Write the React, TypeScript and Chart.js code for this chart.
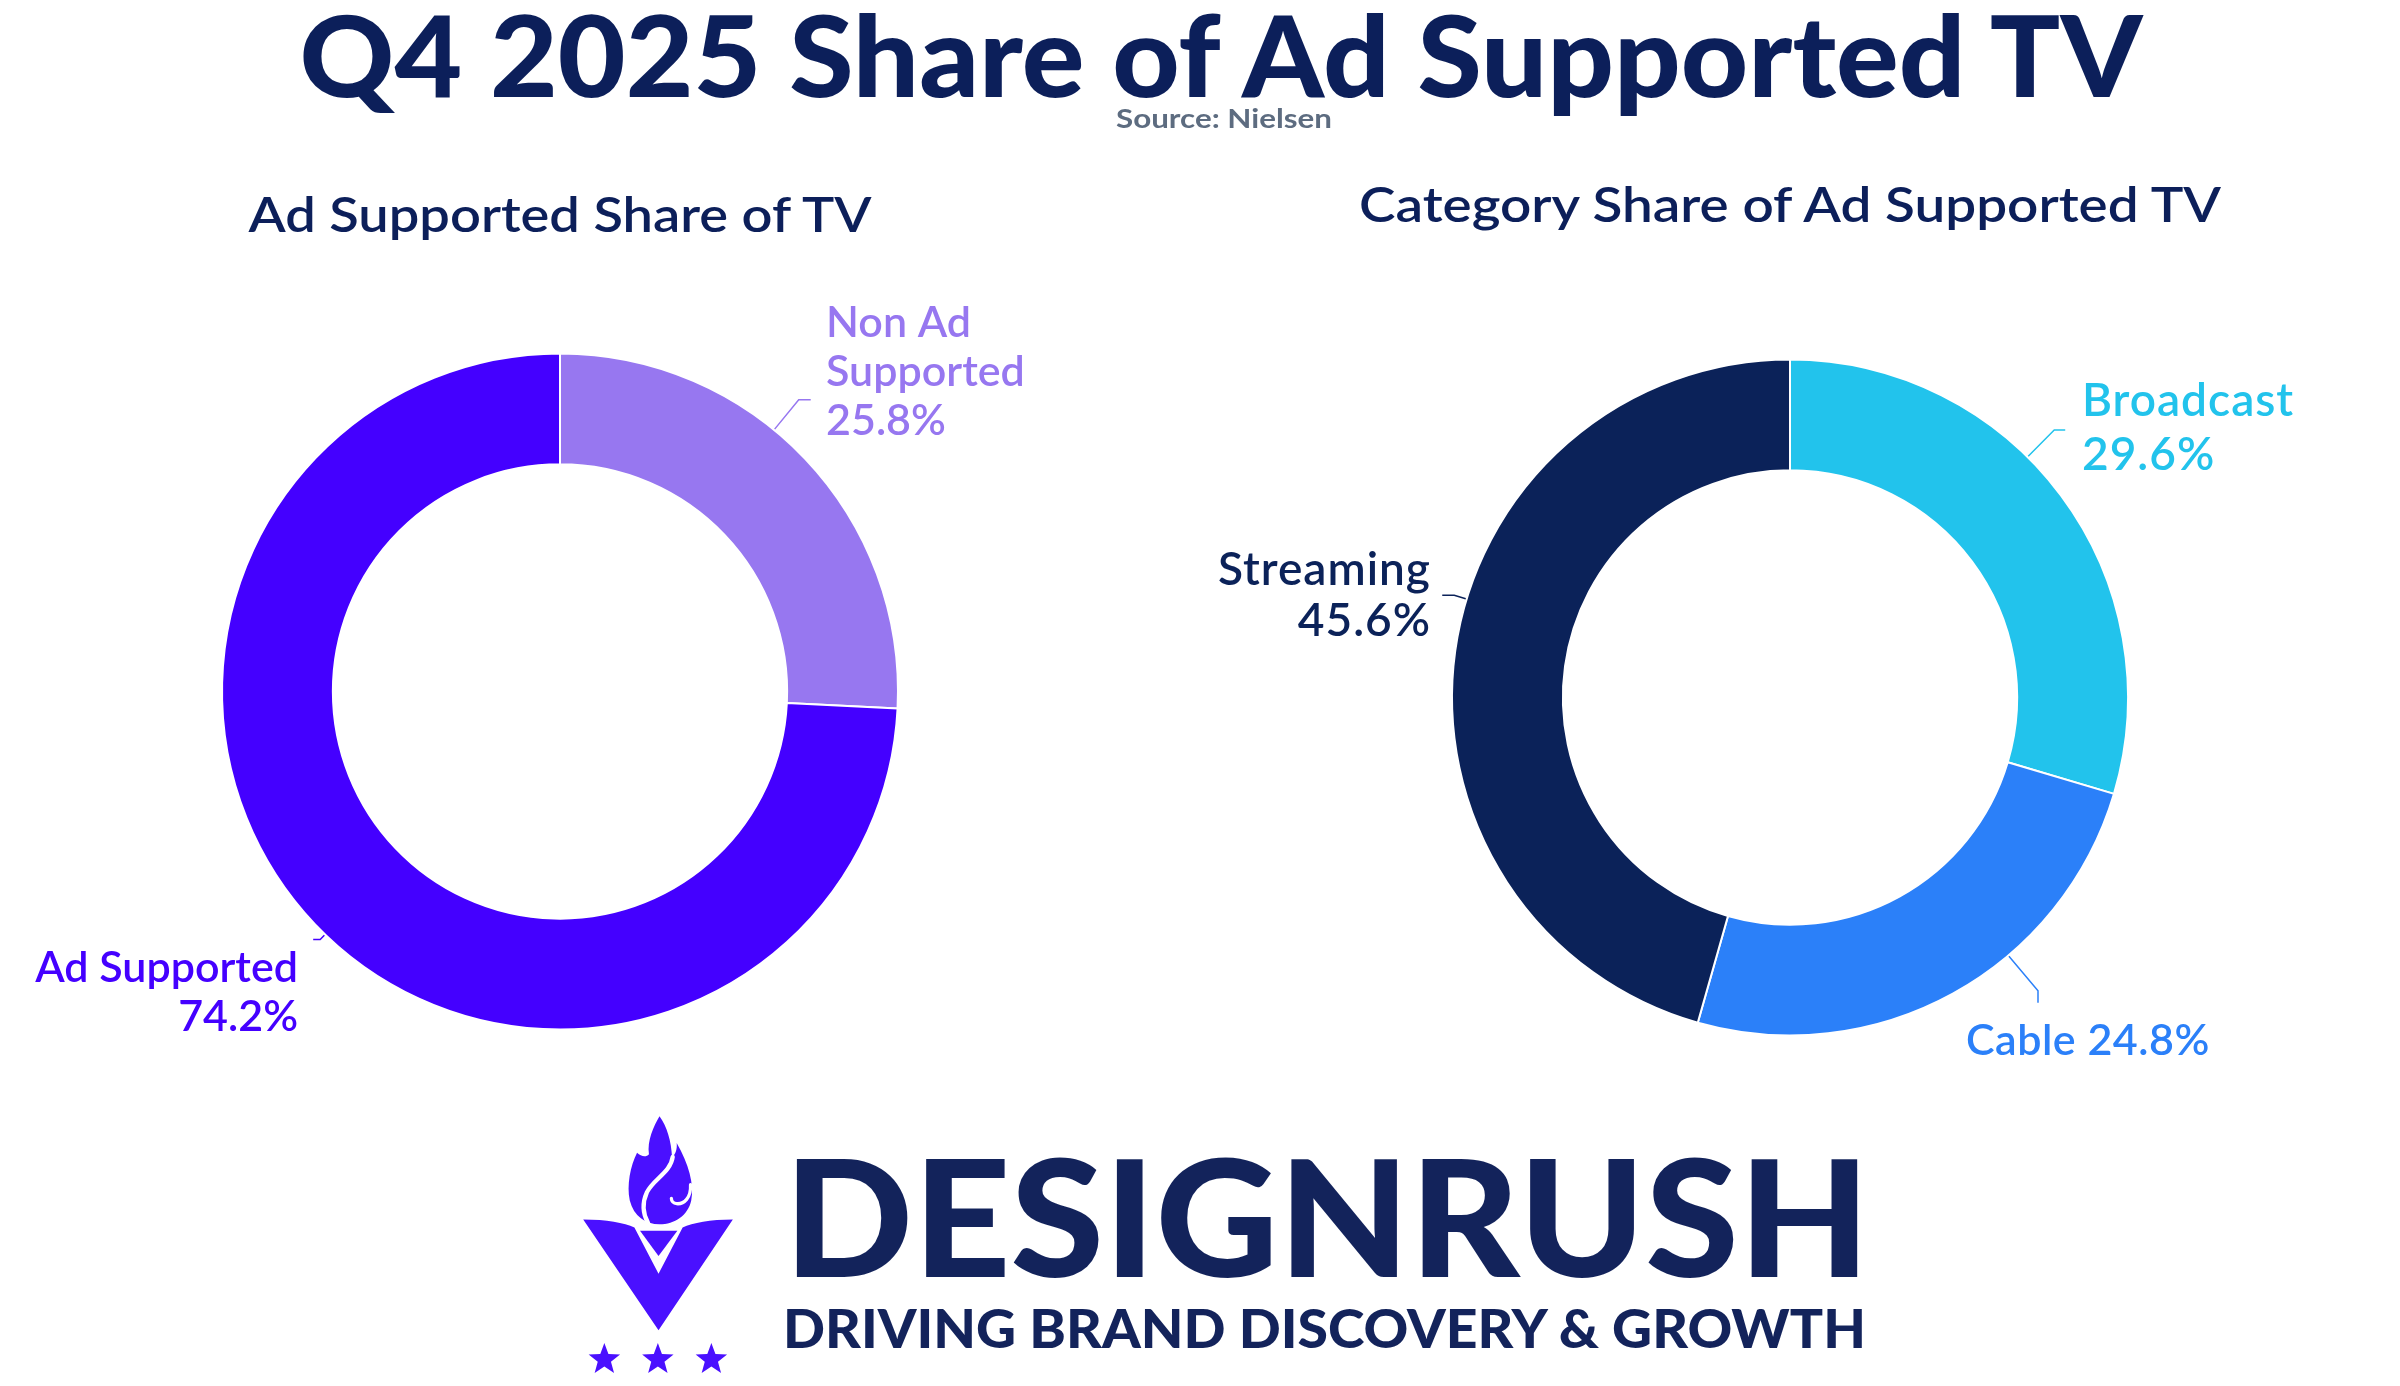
import React, { useEffect, useRef } from 'react';
import { Chart, registerables } from 'chart.js';

Chart.register(...registerables);

// ---------- data ----------
const leftCategories = [['Non Ad', 'Supported'], ['Ad Supported']];
const leftValues = [25.8, 74.2];
const leftColors = ['#9777F0', '#4400FF'];

const rightCategories = [['Broadcast'], ['Cable'], ['Streaming']];
const rightValues = [29.6, 24.8, 45.6];
const rightColors = ['#22C3EC', '#2B80F9', '#0B2259'];

const TITLE = 'Q4 2025 Share of Ad Supported TV';
const SOURCE = 'Source: Nielsen';
const LEFT_TITLE = 'Ad Supported Share of TV';
const RIGHT_TITLE = 'Category Share of Ad Supported TV';

const NAVY = '#0C1F5A';

// label layout (style only): position along slice, leader length, tail, text offset from centre
const leftLayout = [
  { at: 0.423, len: 39, tail: 'right', tailLen: 12, align: 'left', dx: 266, dy: -355, lh: 49, font: '600 43px Lato', ls: '0px' },
  { at: 0.491, len: 7, tail: 'left', tailLen: 7, align: 'right', dx: -262, dy: 290, lh: 49, font: '600 43px Lato', ls: '0px' },
];
const rightLayout = [
  { at: 0.419, len: 38, tail: 'right', tailLen: 11, align: 'left', dx: 292, dy: -282, lh: 54, font: '600 46px Lato', ls: '1px' },
  { at: 0.372, len: 46, tail: 'down', tailLen: 12, align: 'left', dx: 176, dy: 357, lh: 50, inline: true, font: '600 43px Lato', ls: '0.5px' },
  { at: 0.555, len: 13, tail: 'left', tailLen: 12, align: 'right', dx: -359, dy: -113, lh: 51, font: '600 46px Lato', ls: '1px' },
];

const leaderLabels = {
  id: 'leaderLabels',
  afterDatasetsDraw(chart: any, _args: any, opts: any) {
    const items = opts && opts.items;
    if (!items) return;
    const meta = chart.getDatasetMeta(0);
    const ds = chart.data.datasets[0];
    const ctx = chart.ctx;
    items.forEach((lay: any, i: number) => {
      const arc = meta.data[i];
      if (!arc) return;
      ctx.save();
      const p = arc.getProps(['x', 'y', 'startAngle', 'endAngle', 'outerRadius'], true);
      const a = p.startAngle + (p.endAngle - p.startAngle) * lay.at;
      const c = Math.cos(a);
      const s = Math.sin(a);
      const r0 = p.outerRadius + 1;
      const r1 = p.outerRadius + lay.len;
      const color = ds.backgroundColor[i];
      const x0 = p.x + c * r0;
      const y0 = p.y + s * r0;
      const x1 = p.x + c * r1;
      const y1 = p.y + s * r1;
      let x2 = x1;
      let y2 = y1;
      if (lay.tail === 'right') x2 += lay.tailLen;
      else if (lay.tail === 'left') x2 -= lay.tailLen;
      else if (lay.tail === 'down') y2 += lay.tailLen;
      ctx.strokeStyle = color;
      ctx.lineWidth = 1.5;
      ctx.beginPath();
      ctx.moveTo(x0, y0);
      ctx.lineTo(x1, y1);
      ctx.lineTo(x2, y2);
      ctx.stroke();

      const label = chart.data.labels[i];
      const parts = Array.isArray(label) ? label : [label];
      const valueText = `${Number(ds.data[i]).toFixed(1)}%`;
      const lines = lay.inline ? [parts.join(' ') + ' ' + valueText] : [...parts, valueText];
      ctx.fillStyle = color;
      ctx.font = lay.font;
      try {
        (ctx as any).letterSpacing = lay.ls || '0px';
      } catch (e) {
        /* ignore */
      }
      ctx.textAlign = lay.align;
      ctx.textBaseline = 'alphabetic';
      lines.forEach((ln: string, k: number) => {
        ctx.fillText(ln, p.x + lay.dx, p.y + lay.dy + k * lay.lh);
      });
      ctx.restore();
    });
  },
};

function Donut(props: any) {
  const ref = useRef<HTMLCanvasElement | null>(null);
  useEffect(() => {
    if (!ref.current) return;
    const chart = new Chart(ref.current, {
      type: 'doughnut',
      data: {
        labels: props.labels,
        datasets: [
          {
            data: props.values,
            backgroundColor: props.colors,
            borderColor: '#ffffff',
            borderWidth: 2,
            hoverOffset: 0,
          },
        ],
      },
      options: {
        responsive: false,
        animation: false,
        devicePixelRatio: 1,
        cutout: '67.2%',
        radius: 338,
        layout: { padding: props.padding },
        plugins: {
          legend: { display: false },
          tooltip: { enabled: false },
          leaderLabels: { items: props.layout },
        } as any,
      },
      plugins: [leaderLabels as any],
    });
    return () => chart.destroy();
  }, []);
  return <canvas ref={ref} width={1200} height={780} style={props.style} />;
}

function starPoints(cx: number, cy: number, ro: number, ri: number) {
  const pts: string[] = [];
  for (let k = 0; k < 10; k++) {
    const r = k % 2 === 0 ? ro : ri;
    const a = -Math.PI / 2 + (k * Math.PI) / 5;
    pts.push(`${(cx + r * Math.cos(a)).toFixed(1)},${(cy + r * Math.sin(a)).toFixed(1)}`);
  }
  return pts.join(' ');
}

function Logo() {
  const P = '#4A10FF';
  return (
    <g transform="translate(570,1100) scale(0.3303)">
      <g transform="translate(121,24)">
        <path
          fill={P}
          d="M150,25 C132,55 112,100 118,140 C110,150 95,148 82,136 C62,175 50,235 60,280 C72,328 108,352 150,352 C196,352 236,326 246,280 C256,232 238,168 202,106 C204,125 198,140 188,150 C186,100 172,55 150,25 Z"
        />
        <path d="M190,148 C184,195 132,215 112,255 C96,290 100,322 116,350" stroke="#fff" strokeWidth={13} fill="none" strokeLinecap="round" />
        <path d="M244,232 C246,272 224,292 202,290 C192,289 186,282 186,274" stroke="#fff" strokeWidth={10} fill="none" strokeLinecap="round" />
      </g>
      <path fill={P} d="M40,362 C110,362 165,372 195,386 L268,526 L341,386 C371,372 425,362 493,362 L268,697 Z" />
      <path fill={P} d="M212,396 L325,396 L268,472 Z" />
      <polygon fill={P} points={starPoints(104, 786, 50, 21)} />
      <polygon fill={P} points={starPoints(266, 786, 50, 21)} />
      <polygon fill={P} points={starPoints(428, 786, 50, 21)} />
    </g>
  );
}

export default function App() {
  useEffect(() => {
    document.body.style.margin = '0';
    document.body.style.background = '#ffffff';
  }, []);
  return (
    <div style={{ position: 'relative', width: 2400, height: 1386, background: '#fff', overflow: 'hidden' }}>
      <Donut
        labels={leftCategories}
        values={leftValues}
        colors={leftColors}
        layout={leftLayout}
        padding={{ left: 222, right: 302, top: 54, bottom: 51 }}
        style={{ position: 'absolute', left: 0, top: 300 }}
      />
      <Donut
        labels={rightCategories}
        values={rightValues}
        colors={rightColors}
        layout={rightLayout}
        padding={{ left: 252, right: 272, top: 59, bottom: 44 }}
        style={{ position: 'absolute', left: 1200, top: 300 }}
      />
      <svg width={2400} height={1386} style={{ position: 'absolute', left: 0, top: 0 }}>
        <text x={1221} y={97} textAnchor="middle" fontFamily="Lato" fontWeight={900} fontSize={112} fill={NAVY} textLength={1843} lengthAdjust="spacingAndGlyphs">
          {TITLE}
        </text>
        <text x={1224} y={128} textAnchor="middle" fontFamily="Lato" fontWeight={700} fontSize={26} fill="#5D6C80" textLength={216} lengthAdjust="spacingAndGlyphs">
          {SOURCE}
        </text>
        <text x={560} y={232} textAnchor="middle" fontFamily="Lato" fontWeight={600} fontSize={48} fill={NAVY} textLength={623} lengthAdjust="spacingAndGlyphs">
          {LEFT_TITLE}
        </text>
        <text x={1790} y={222} textAnchor="middle" fontFamily="Lato" fontWeight={600} fontSize={48} fill={NAVY} textLength={862} lengthAdjust="spacingAndGlyphs">
          {RIGHT_TITLE}
        </text>
        <Logo />
        <text x={784} y={1277} fontFamily="Lato" fontWeight={900} fontSize={162} fill="#13235B" textLength={1086} lengthAdjust="spacingAndGlyphs">
          DESIGNRUSH
        </text>
        <text x={783} y={1348} fontFamily="Lato" fontWeight={900} fontSize={53} fill="#13235B" textLength={1083} lengthAdjust="spacingAndGlyphs">
          DRIVING BRAND DISCOVERY &amp; GROWTH
        </text>
      </svg>
    </div>
  );
}
